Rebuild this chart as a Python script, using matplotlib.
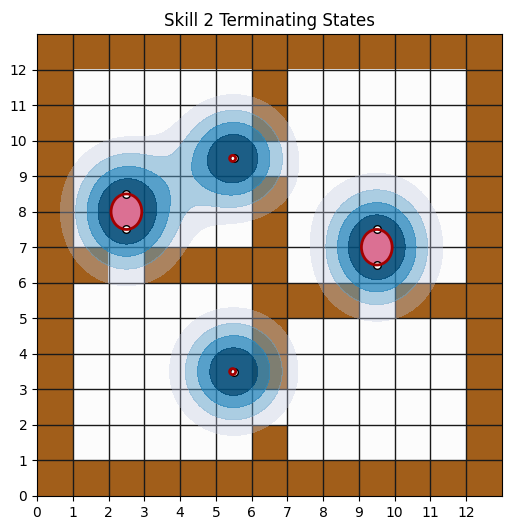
import numpy as np
import matplotlib
matplotlib.use('Agg')
import matplotlib.pyplot as plt
from matplotlib.colors import ListedColormap
from matplotlib.patches import Ellipse

# four rooms map, 'w' = wall, row 0 is the top row
layout = [
    "wwwwwwwwwwwww",
    "w     w     w",
    "w     w     w",
    "w           w",
    "w     w     w",
    "w     w     w",
    "ww wwww     w",
    "w     www www",
    "w     w     w",
    "w     w     w",
    "w           w",
    "w     w     w",
    "wwwwwwwwwwwww",
]

# terminating states of skill 2 (cell centres) and their relative weight
term_x = [2.5, 2.5, 5.5, 9.5, 9.5, 5.5]
term_y = [8.5, 7.5, 9.5, 7.5, 6.5, 3.5]
term_w = [0.62, 0.62, 1.0, 0.62, 0.62, 1.0]

# fitted gaussian components (mean, ellipse size)
ell_x = [2.5, 5.47, 9.5, 5.47]
ell_y = [8.0, 9.5, 7.0, 3.5]
ell_w = [0.86, 0.17, 0.86, 0.17]
ell_h = [1.0, 0.17, 1.0, 0.17]

bandwidth = 1.0
levels = [0.2, 0.4, 0.6, 0.8, 5.0]

grid = np.array([[1 if c == 'w' else 0 for c in row] for row in layout])
n = grid.shape[0]

# density of terminating states
xs = np.linspace(0, n, 400)
X, Y = np.meshgrid(xs, xs)
Z = np.zeros_like(X)
for px, py, w in zip(term_x, term_y, term_w):
    Z += w * np.exp(-((X - px) ** 2 + (Y - py) ** 2) / (2 * bandwidth ** 2))

cmap = plt.get_cmap('PuBu')
band_v = [0.3, 0.55, 0.66, 0.92]
band_a = [0.35, 0.5, 0.78, 0.9]
band_colors = [(*cmap(v)[:3], a) for v, a in zip(band_v, band_a)]

fig = plt.figure(figsize=(5.24, 5.30), dpi=100)
ax = fig.add_axes([0.0706, 0.0642, 0.8874, 0.8716])

ax.imshow(grid, cmap=ListedColormap(['#fcfcfc', '#a15e1a']), extent=(0, n, 0, n),
          origin='upper', interpolation='nearest', zorder=0)
for k in range(1, n):
    ax.axvline(k, color='#1a1a1a', lw=1, zorder=0.5)
    ax.axhline(k, color='#1a1a1a', lw=1, zorder=0.5)

ax.contourf(X, Y, Z, levels=levels, colors=band_colors, zorder=1)

for ex, ey, ew, eh in zip(ell_x, ell_y, ell_w, ell_h):
    ax.add_patch(Ellipse((ex, ey), ew, eh, facecolor='palevioletred', edgecolor='none', zorder=3))
ax.plot(term_x, term_y, 'o', ms=5.5, mfc='white', mec='black', mew=1, zorder=4)
for ex, ey, ew, eh in zip(ell_x, ell_y, ell_w, ell_h):
    ax.add_patch(Ellipse((ex, ey), ew, eh, facecolor='none', edgecolor='#a30000', lw=2, zorder=5))

ax.set_xlim(0, n)
ax.set_ylim(0, n)
ax.set_xticks(range(n))
ax.set_yticks(range(n))
ax.set_aspect('auto')
ax.set_title('Skill 2 Terminating States')

fig.savefig('out.png', dpi=100)
